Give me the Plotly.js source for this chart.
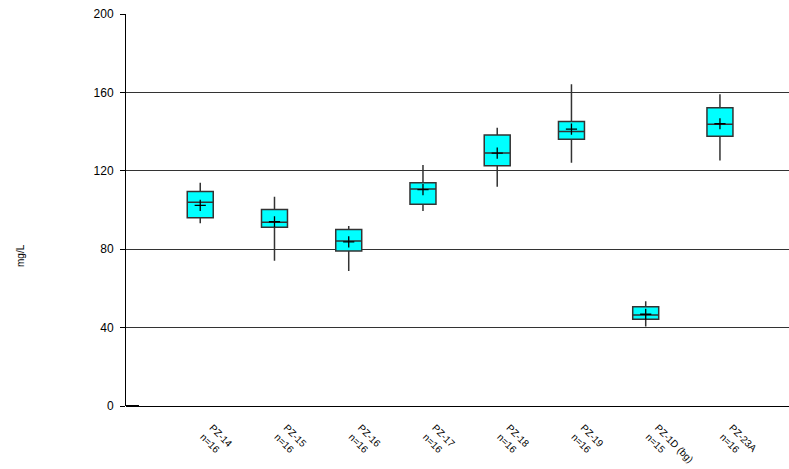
<!DOCTYPE html>
<html>
<head>
<meta charset="utf-8">
<script src="https://cdn.plot.ly/plotly-3.0.1.min.js"></script>
<style>html,body{margin:0;padding:0;background:#fff;}#chart{width:789px;height:469px;}</style>
</head>
<body>
<div id="chart"></div>
<script>
const wells = ["PZ-14", "PZ-15", "PZ-16", "PZ-17", "PZ-18", "PZ-19", "PZ-1D (bg)", "PZ-23A"];
const counts = [16, 16, 16, 16, 16, 16, 15, 16];
const positions = [1, 2, 3, 4, 5, 6, 7, 8];
const minVals = [93.2, 74.1, 68.9, 99.5, 111.9, 124.1, 40.5, 125.2];
const q1Vals = [96.1, 91.2, 79.1, 102.9, 122.6, 136.1, 44.3, 137.6];
const medianVals = [103.9, 93.7, 84.2, 110.7, 129.1, 140.1, 46.4, 143.7];
const q3Vals = [109.5, 100.2, 90.1, 113.9, 138.3, 145.2, 50.7, 152.2];
const maxVals = [113.9, 106.8, 91.8, 123.0, 142.0, 164.1, 53.5, 159.0];
const meanVals = [102.4, 94.0, 83.7, 110.4, 129.0, 141.3, 46.8, 144.0];
const yTicks = [0, 40, 80, 120, 160, 200];
const yTitle = "mg/L";

const tickText = wells.map((w, i) => w + "<br>n=" + counts[i]);

const boxTrace = {
  type: "box",
  x: positions,
  q1: q1Vals,
  median: medianVals,
  q3: q3Vals,
  lowerfence: minVals,
  upperfence: maxVals,
  width: 0.35,
  whiskerwidth: 0,
  fillcolor: "#00FFFF",
  line: {color: "#333333", width: 1.5},
  boxpoints: false,
  hoverinfo: "skip",
  showlegend: false
};

const emptyTrace = {
  type: "box",
  x: [0],
  q1: [0], median: [0], q3: [0], lowerfence: [0], upperfence: [0],
  width: 0.35,
  whiskerwidth: 0,
  fillcolor: "#00FFFF",
  line: {color: "#000000", width: 2},
  boxpoints: false,
  hoverinfo: "skip",
  showlegend: false
};

const meanTrace = {
  type: "scatter",
  mode: "markers",
  x: positions,
  y: meanVals,
  marker: {symbol: "cross-thin", size: 8, color: "#000", line: {color: "#000", width: 1.3}},
  hoverinfo: "skip",
  showlegend: false
};

const layout = {
  width: 789,
  height: 469,
  margin: {l: 126, r: 0, t: 14, b: 63},
  paper_bgcolor: "#ffffff",
  plot_bgcolor: "#ffffff",
  font: {family: "Liberation Sans, Arial, sans-serif", color: "#000"},
  xaxis: {
    range: [0, 8.93],
    tickmode: "array",
    tickvals: positions,
    ticktext: tickText,
    tickangle: 45,
    tickfont: {size: 10, color: "#000"},
    ticklabelstandoff: 13,
    ticklabelshift: 12,
    showgrid: false,
    zeroline: false,
    showline: false,
    ticks: ""
  },
  yaxis: {
    range: [0, 200],
    tickmode: "array",
    tickvals: yTicks,
    ticktext: yTicks.map(String),
    tickfont: {size: 12, color: "#000"},
    ticklabelstandoff: 4,
    showgrid: true,
    gridcolor: "#333333",
    gridwidth: 1,
    zeroline: true,
    zerolinecolor: "#000",
    zerolinewidth: 1,
    showline: true,
    linecolor: "#000",
    linewidth: 1,
    ticks: "outside",
    ticklen: 5,
    tickcolor: "#000"
  },
  annotations: [{
    text: yTitle,
    xref: "paper", yref: "paper",
    x: -0.16, y: 0.385,
    xanchor: "center", yanchor: "middle",
    textangle: -90,
    showarrow: false,
    font: {size: 10, color: "#000"}
  }]
};

Plotly.newPlot("chart", [emptyTrace, boxTrace, meanTrace], layout, {staticPlot: true, displayModeBar: false});
</script>
</body>
</html>
